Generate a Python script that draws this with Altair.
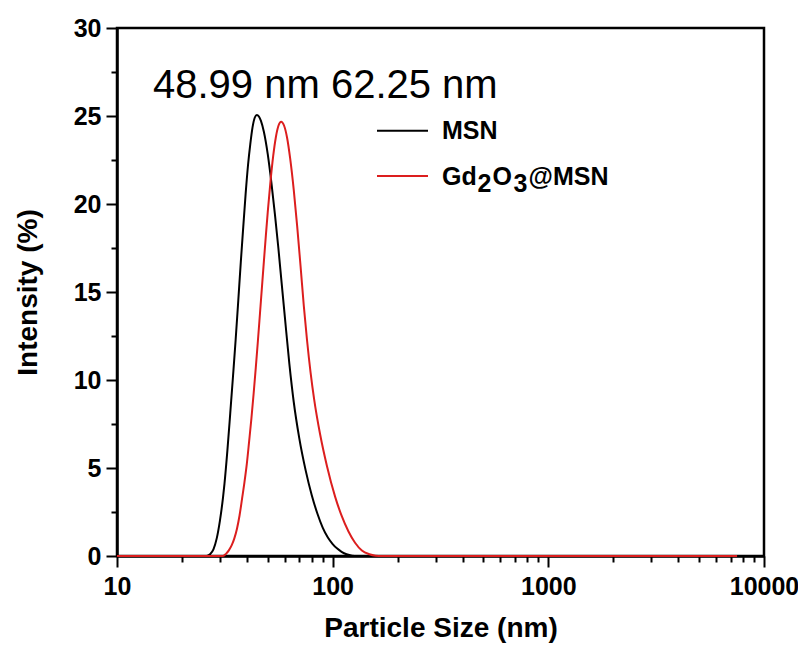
import altair as alt
import pandas as pd

# ---- data ----
msn_size = [10, 20, 26, 27, 28, 29, 30, 31, 31.5, 32.5,
            33.5, 34.5, 35.5, 36.5, 37.5, 38.5, 39.5, 40.5, 41.5, 42.5,
            43.5, 44.5, 45.5, 46.5, 48, 50, 52, 54, 56, 58,
            60, 63, 66, 70, 75, 80, 85, 90, 95, 100,
            105, 110, 116, 123, 130, 200, 1000, 7500]
msn_int = [0, 0, 0, 0.1, 0.38, 1.0, 2.0, 3.3, 4.1, 6.0,
           8.1, 10.2, 12.3, 14.5, 16.7, 18.7, 20.6, 22.2, 23.4, 24.35,
           24.9, 25.06, 24.97, 24.72, 24.09, 22.83, 21.2, 19.4, 17.5, 15.5,
           13.6, 10.9, 8.75, 6.7, 4.85, 3.45, 2.4, 1.6, 1.05, 0.68,
           0.42, 0.24, 0.1, 0.02, 0, 0, 0, 0]

gd_size = [10, 25, 31, 32, 33, 34, 35, 36, 37, 38,
           39, 40, 41, 42, 43, 44, 45, 46, 47, 48,
           49, 50, 51.5, 53, 54.5, 56, 57.7, 59.5, 61.5, 63.5,
           66, 68.5, 71, 73.5, 76, 79, 82, 87.5, 94, 102.7,
           110, 118.4, 127, 136.6, 148, 158, 169, 300, 1000, 7500]
gd_int = [0, 0, 0, 0.12, 0.32, 0.6, 1.0, 1.55, 2.3, 3.25,
          4.2, 5.25, 6.53, 7.82, 9.22, 10.69, 12.2, 13.75, 15.28, 16.77,
          18.2, 19.54, 21.3, 22.73, 23.78, 24.43, 24.68, 24.46, 23.75, 22.6,
          20.8, 18.7, 16.45, 14.2, 12.3, 10.42, 8.93, 6.9, 5.13, 3.36,
          2.29, 1.39, 0.75, 0.31, 0.1, 0.02, 0, 0, 0, 0]

x_major = [10, 100, 1000, 10000]
x_minor = [20, 30, 40, 50, 60, 70, 80, 90,
           200, 300, 400, 500, 600, 700, 800, 900,
           2000, 3000, 4000, 5000, 6000, 7000, 8000, 9000]
y_ticks = [0, 2.5, 5, 7.5, 10, 12.5, 15, 17.5, 20, 22.5, 25, 27.5, 30]

annotation = "48.99 nm 62.25 nm"
legend_msn = "MSN"
legend_gd_parts = ["Gd", "2", "O", "3", "@MSN"]

BLACK = "#000000"
RED = "#dc1e1e"
FONT = "Liberation Sans"

W, H = 647, 528

msn_df = pd.DataFrame({"size": msn_size, "intensity": msn_int})
gd_df = pd.DataFrame({"size": gd_size, "intensity": gd_int})

x_scale = alt.Scale(type="log", domain=[10, 10000], nice=False)
y_scale = alt.Scale(domain=[0, 30], nice=False, zero=False)

x_axis = alt.Axis(
    values=x_major + x_minor,
    title="Particle Size (nm)",
    labelExpr="indexof([10,100,1000,10000], datum.value) >= 0 ? format(datum.value, 'd') : ''",
    tickSize={"condition": {"test": "indexof([10,100,1000,10000], datum.value) >= 0", "value": 11}, "value": 6},
    labelPadding=7,
    titlePadding=15,
    labelFlush=False,
    labelOverlap=False,
    grid=False,
)
y_axis = alt.Axis(
    values=y_ticks,
    title="Intensity (%)",
    labelExpr="datum.value % 5 === 0 ? format(datum.value, 'd') : ''",
    tickSize={"condition": {"test": "datum.value % 5 === 0", "value": 11}, "value": 6},
    labelPadding=5,
    titlePadding=31,
    labelOverlap=False,
    grid=False,
)

msn_line = alt.Chart(msn_df).mark_line(color=BLACK, strokeWidth=2, interpolate="monotone").encode(
    x=alt.X("size:Q", scale=x_scale, axis=x_axis),
    y=alt.Y("intensity:Q", scale=y_scale, axis=y_axis),
)
gd_line = alt.Chart(gd_df).mark_line(color=RED, strokeWidth=2, interpolate="monotone").encode(
    x=alt.X("size:Q", scale=x_scale, axis=x_axis),
    y=alt.Y("intensity:Q", scale=y_scale, axis=y_axis),
)

one = pd.DataFrame({"k": [0]})

annot = alt.Chart(one).mark_text(
    font=FONT, fontSize=40, color=BLACK, align="left", baseline="alphabetic"
).encode(x=alt.value(36), y=alt.value(70), text=alt.value(annotation))

leg_rule_msn = alt.Chart(one).mark_rule(color=BLACK, strokeWidth=2).encode(
    x=alt.value(260), x2=alt.value(311), y=alt.value(102.7))
leg_rule_gd = alt.Chart(one).mark_rule(color=RED, strokeWidth=2).encode(
    x=alt.value(260), x2=alt.value(311), y=alt.value(148))


def leg_text(txt, x, y):
    return alt.Chart(one).mark_text(
        font=FONT, fontSize=25, fontWeight="bold", color=BLACK, align="left", baseline="alphabetic"
    ).encode(x=alt.value(x), y=alt.value(y), text=alt.value(txt))


leg_texts = [
    leg_text(legend_msn, 325, 111.3),
    leg_text(legend_gd_parts[0], 325, 157),
    leg_text(legend_gd_parts[1], 360.5, 164),
    leg_text(legend_gd_parts[2], 375.5, 157),
    leg_text(legend_gd_parts[3], 396.5, 164),
    leg_text(legend_gd_parts[4], 411.5, 157),
]

chart = alt.layer(
    msn_line, gd_line, annot, leg_rule_msn, leg_rule_gd, *leg_texts
).properties(
    width=W, height=H,
    autosize=alt.AutoSizeParams(type="none"),
    padding={"left": 109, "top": 20, "right": 34, "bottom": 87},
).configure_view(
    stroke=BLACK, strokeWidth=2.5
).configure_axis(
    labelFont=FONT, labelFontSize=25, labelFontWeight="bold", labelColor=BLACK,
    titleFont=FONT, titleFontSize=28, titleFontWeight="bold", titleColor=BLACK,
    tickColor=BLACK, tickWidth=2, domainColor=BLACK, domainWidth=2.5,
)

chart.save("out.html", embed_options={"renderer": "svg", "actions": False})
